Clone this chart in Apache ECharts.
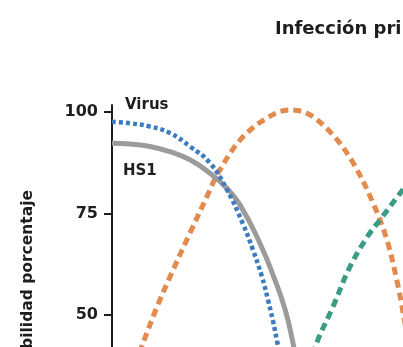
<!DOCTYPE html>
<html><head><meta charset="utf-8">
<script src="https://cdn.jsdelivr.net/npm/echarts@6/dist/echarts.min.js"></script>
<style>html,body{margin:0;padding:0;background:#fff}#c{width:403px;height:347px}</style>
</head><body><div id="c"></div>
<script>
// Data (x = time units, y = percent)
const virusX = [0, 3.1, 6.55, 10.0, 13.45, 16.9, 19.83, 22.59, 24.31, 25.86, 26.9, 27.76, 28.45, 29.14, 29.8];
const virusY = [97.6, 97.2, 96.4, 94.8, 91.5, 87.4, 80.8, 72.4, 66.0, 59.4, 53.7, 48.5, 43.6, 38.7, 33];
const hs1X = [0, 3.1, 6.55, 10.0, 13.45, 16.9, 19.8, 22.07, 25.52, 28.1, 29.83, 31.03, 32.0, 32.7];
const hs1Y = [92.3, 92.1, 91.5, 90.2, 88.2, 84.9, 81.2, 77.1, 67.6, 58.6, 51.4, 44.3, 37, 30];
const primX = [3.1, 5.35, 7.76, 10.0, 13.45, 16.9, 18.1, 22.1, 26.7, 30.7, 34.1, 38.1, 41.6, 45.0, 47.4, 49.1, 50.2, 51.2];
const primY = [34.7, 43.1, 52.0, 59.4, 70.2, 80.8, 84.5, 93.1, 98.5, 100.5, 99.3, 94.3, 87.4, 77.6, 68.5, 58.6, 50.5, 42];
const secX = [33.5, 35.3, 38.1, 41.0, 44.0, 46.2, 49.7, 52.5];
const secY = [34, 43.1, 52.0, 61.8, 69.2, 73.4, 80.0, 85];
const yTicks = [0, 25, 50, 75, 100];
const titleText = 'Infección primaria';
const yName = 'Probabilidad porcentaje';
const labelVirus = 'Virus';
const labelHS1 = 'HS1';

const zip = (a, b) => a.map((v, i) => [v, b[i]]);
const FONT = '"DejaVu Sans", sans-serif';
const INK = '#1e1e1e';

const chart = echarts.init(document.getElementById('c'), null, {renderer: 'canvas'});
chart.setOption({
  animation: false,
  backgroundColor: '#fff',
  grid: {left: 112, top: 105, width: 580, height: 413, containLabel: false, outerBoundsMode: 'none'},
  xAxis: {type: 'value', min: 0, max: 100, show: false},
  yAxis: {
    type: 'value', min: 0, max: 101.7,
    axisLine: {show: true, lineStyle: {color: INK, width: 2}},
    axisTick: {show: true, length: 8, customValues: yTicks, lineStyle: {color: INK, width: 2}},
    axisLabel: {customValues: yTicks, margin: 14, color: INK, fontSize: 16, fontWeight: 'bold', fontFamily: FONT},
    splitLine: {show: false}
  },
  series: [
    {type: 'line', data: zip(primX, primY), smooth: 0.35, symbol: 'none',
     lineStyle: {color: '#e38a4f', width: 5, type: [8, 5], cap: 'butt'}},
    {type: 'line', data: zip(secX, secY), smooth: 0.35, symbol: 'none',
     lineStyle: {color: '#3a9c84', width: 5, type: [8, 5], cap: 'butt'}},
    {type: 'line', data: zip(hs1X, hs1Y), smooth: 0.5, symbol: 'none',
     lineStyle: {color: '#9b9b9b', width: 5, type: 'solid'}},
    {type: 'line', data: zip(virusX, virusY), smooth: 0.45, symbol: 'none',
     lineStyle: {color: '#3b7cc0', width: 4.5, type: [4, 3], cap: 'butt'}}
  ],
  graphic: [
    {type: 'text', x: 275, y: 29, style: {text: titleText, fill: INK, font: 'bold 18px ' + FONT, verticalAlign: 'middle'}},
    {type: 'text', x: 125, y: 105, style: {text: labelVirus, fill: INK, font: 'bold 15px ' + FONT, verticalAlign: 'middle'}},
    {type: 'text', x: 123, y: 171, style: {text: labelHS1, fill: INK, font: 'bold 15px ' + FONT, verticalAlign: 'middle'}},
    {type: 'text', x: 28, y: 190, rotation: Math.PI / 2,
     style: {text: yName, fill: INK, font: 'bold 15.5px ' + FONT, align: 'right', verticalAlign: 'middle'}}
  ]
});
</script></body></html>
